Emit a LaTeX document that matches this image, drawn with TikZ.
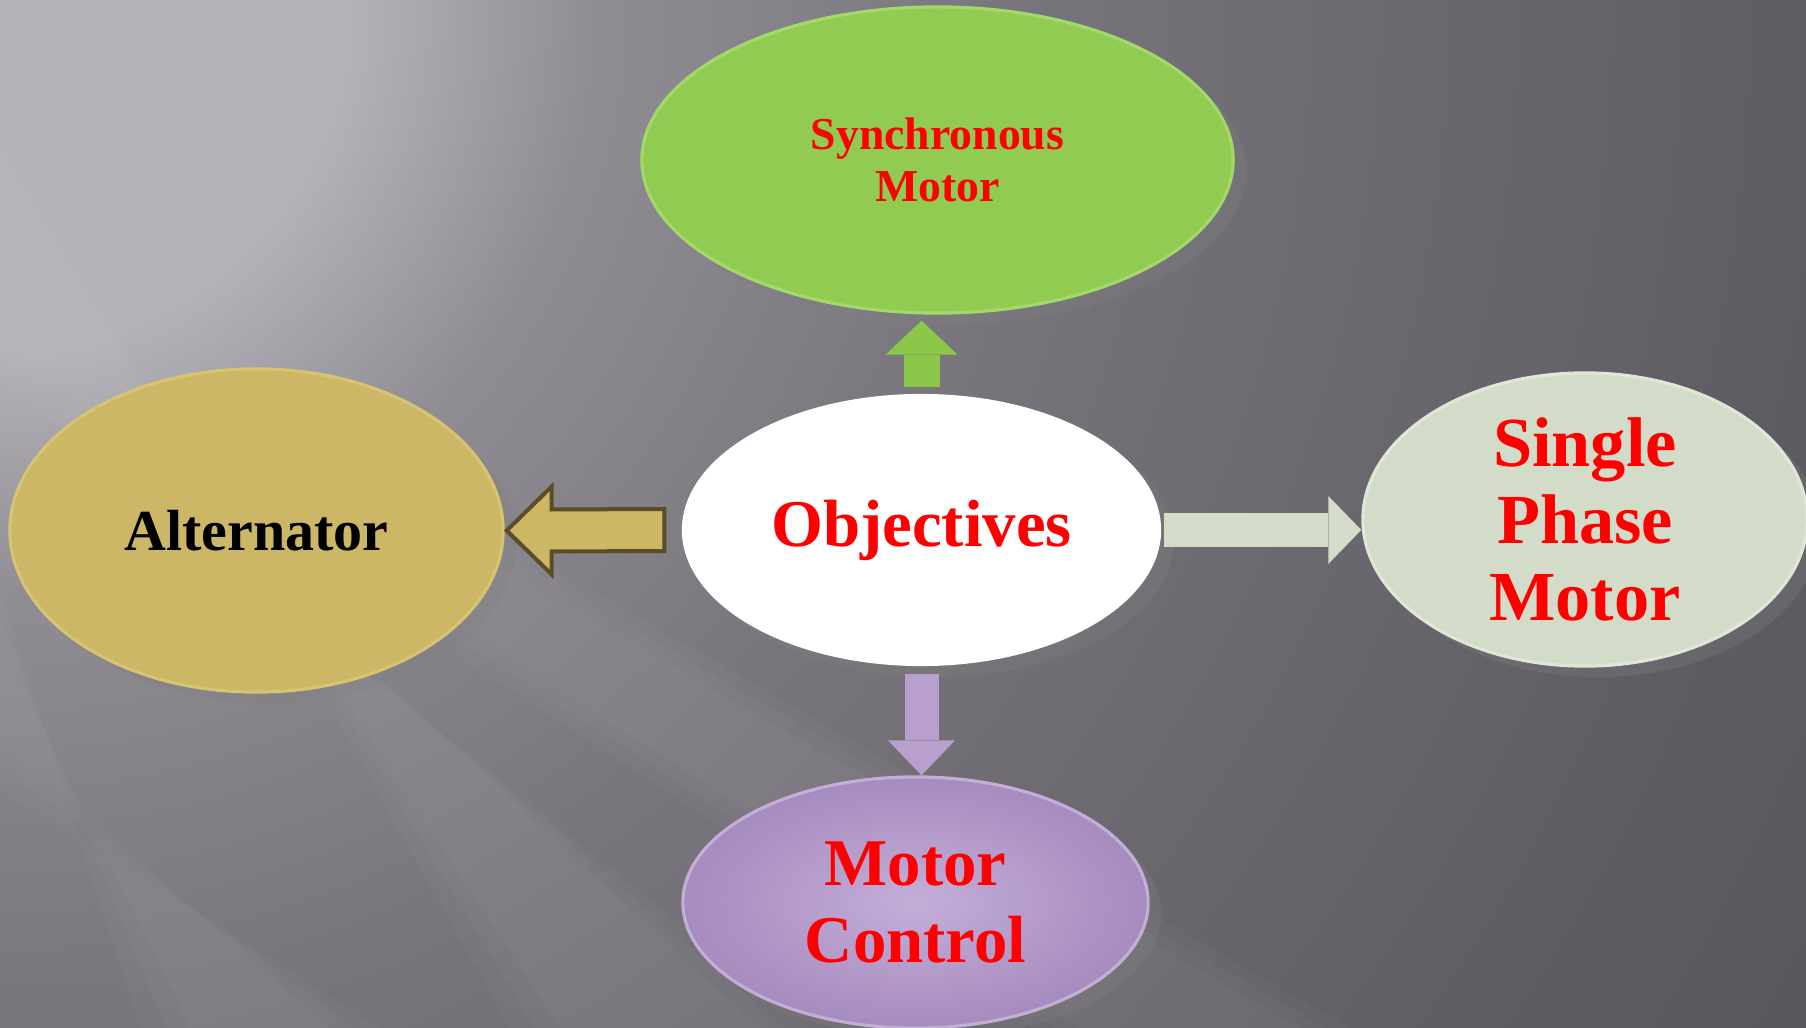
\documentclass[tikz,border=0pt]{standalone}
\usepackage{fontspec}
\setmainfont{Liberation Serif}
\usetikzlibrary{shapes.geometric}
\usetikzlibrary{arrows.meta}
\usetikzlibrary{calc}
\usetikzlibrary{shadows}
\definecolor{bgA}{HTML}{B4B1B8}
\definecolor{bgB}{HTML}{8F8C93}
\definecolor{bgC}{HTML}{77757B}
\definecolor{bgD}{HTML}{6E6C72}
\definecolor{bgE}{HTML}{5F5D63}
\definecolor{bgF}{HTML}{58565C}
\definecolor{syncGreen}{HTML}{91CB52}
\definecolor{syncRim}{HTML}{A3D86A}
\definecolor{altGold}{HTML}{CBB766}
\definecolor{altRim}{HTML}{D6C472}
\definecolor{altEdge}{HTML}{5A4D28}
\definecolor{singleSage}{HTML}{D3DCC8}
\definecolor{singleRim}{HTML}{E0E7D8}
\definecolor{ctrlLight}{HTML}{C4AED8}
\definecolor{ctrlDark}{HTML}{A68BBF}
\definecolor{ctrlArrow}{HTML}{B89FCC}
\definecolor{upGreen}{HTML}{8BC84A}
\pgfdeclareradialshading{bgglow}{\pgfpointorigin}{color(0bp)=(bgA); color(4bp)=(bgA);
  color(6.8bp)=(bgB); color(11.7bp)=(bgC); color(14.75bp)=(bgD); color(20.45bp)=(bgE);
  color(23.85bp)=(bgF); color(50bp)=(bgF)}
\tikzset{bubble/.style={ellipse, inner sep=0pt, align=center, text=red, line width=0.9pt,
    drop shadow={shadow xshift=0.13cm, shadow yshift=-0.11cm, opacity=0.3}}}
\tikzset{fatarrow/.style={line width=#1, line cap=butt}}
\tikzset{streak/.style={white, opacity=0.025}}

\begin{document}
\begin{tikzpicture}[x=0.01cm, y=-0.01cm]
    \useasboundingbox (0,0) rectangle (1806,1028);
    \clip (0,0) rectangle (1806,1028);
    \fill[bgF] (0,0) rectangle (1806,1028);
    \shade[shading=bgglow] (0,0) circle (2200);
    % soft streaks
    \foreach \w in {0,25,50} {
      \fill[streak] (0,170-\w) -- (0,330+\w) -- (760+\w,1028) -- (560-\w,1028) -- cycle;
      \fill[streak] (0,640-\w) -- (0,740+\w) -- (330+\w,1028) -- (190-\w,1028) -- cycle;
      \fill[streak] (300-\w,520) -- (420+\w,520) -- (1300+\w,1028) -- (1080-\w,1028) -- cycle;
    }

    \node[bubble, fill=syncGreen, draw=syncRim, minimum width=5.91cm, minimum height=3.06cm,
      font=\bfseries\fontsize{13}{14.8}\selectfont] at (937.5, 160) (sync) {Synchronous\\Motor};
    \node[bubble, fill=altGold, draw=altRim, text=black, minimum width=4.93cm, minimum height=3.23cm,
      font=\bfseries\fontsize{16.5}{19}\selectfont] at (256.5, 530.5) (alt) {Alternator};
    \node[bubble, fill=white, minimum width=4.79cm, minimum height=2.72cm,
      font=\bfseries\fontsize{19}{22}\selectfont] at (921.5, 530) (obj) {Objectives};
    \node[bubble, fill=singleSage, draw=singleRim, minimum width=4.44cm, minimum height=2.93cm, inner ysep=-0.12cm,
      font=\bfseries\fontsize{20}{21.9}\selectfont] at (1585, 519.5) (single) {Single\\Phase\\Motor};
    \node[bubble, inner color=ctrlLight, outer color=ctrlDark, draw=ctrlLight, minimum width=4.65cm, minimum height=2.51cm,
      font=\bfseries\fontsize{19}{21.9}\selectfont] at (915.5, 902.5) (mctrl) {Motor\\Control};

    \draw[fatarrow=0.36cm, upGreen, -{Triangle[length=0.34cm, width=0.72cm, line width=0pt]}]
      ($(obj.north)+(0,-5)$) -- ($(obj.north |- sync.south)+(0,6)$);
    \draw[fatarrow=0.34cm, singleSage, -{Triangle[length=0.33cm, width=0.68cm, line width=0pt]}]
      ($(obj.east)+(1,0)$) -- (obj.east -| single.west);
    \draw[fatarrow=0.34cm, ctrlArrow, -{Triangle[length=0.35cm, width=0.67cm, line width=0pt]}]
      ($(obj.south)+(0,6)$) -- (obj.south |- mctrl.north);
    \draw[fill=altGold, draw=altEdge, line width=0.04cm, line join=miter]
      ($(alt.east)+(2,0)$) -- ($(alt.east)+(47,-44)$) -- ($(alt.east)+(47,-21)$)
      -- ($(obj.west)+(-16,-21)$) -- ($(obj.west)+(-16,21)$)
      -- ($(alt.east)+(47,21)$) -- ($(alt.east)+(47,44)$) -- cycle;
\end{tikzpicture}
\end{document}
